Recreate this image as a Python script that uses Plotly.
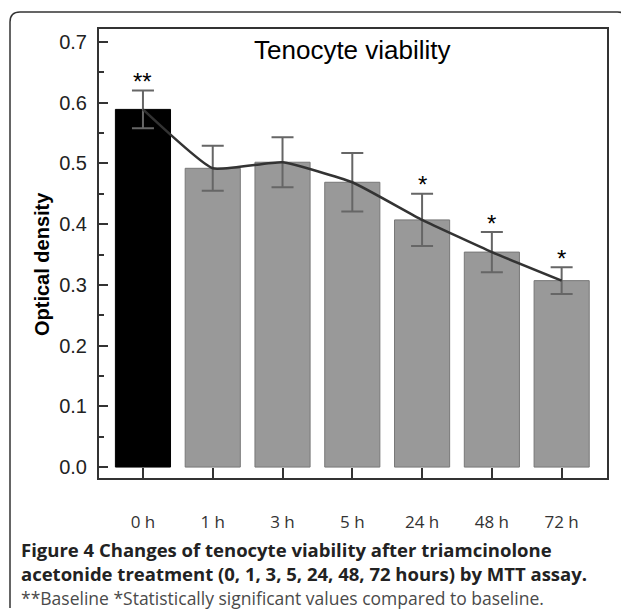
import plotly.graph_objects as go

categories = ["0 h", "1 h", "3 h", "5 h", "24 h", "48 h", "72 h"]
means = [0.589, 0.492, 0.502, 0.469, 0.407, 0.354, 0.307]
errors = [0.031, 0.037, 0.041, 0.048, 0.043, 0.033, 0.022]
stars = ["**", "", "", "", "*", "*", "*"]
bar_colors = ["#000000", "#999999", "#999999", "#999999", "#999999", "#999999", "#999999"]
line_colors = ["#000000", "#777777", "#777777", "#777777", "#777777", "#777777", "#777777"]
y_ticks = [0, 0.1, 0.2, 0.3, 0.4, 0.5, 0.6, 0.7]
y_minor = [0.05, 0.15, 0.25, 0.35, 0.45, 0.55, 0.65]

# page body adds an 8px margin; the figure is sized to fill the rest
OFF = 8
W, H = 629 - OFF, 611 - OFF
L, R, T, B = 91, 22, 21, 133
pw, ph = W - L - R, H - T - B


def px(x):
    """screen x -> paper x"""
    return (x - OFF - L) / pw


def py(y):
    """screen y -> paper y"""
    return (H - B - (y - OFF)) / ph


fig = go.Figure()
fig.add_trace(go.Bar(
    x=categories, y=means, width=0.79,
    marker=dict(color=bar_colors, line=dict(color=line_colors, width=1)),
    error_y=dict(type="data", array=errors, visible=True, color="#666666",
                 thickness=2, width=11),
    showlegend=False, hoverinfo="skip",
))
fig.add_trace(go.Scatter(
    x=categories, y=means, mode="lines",
    line=dict(color="#333333", width=2.5, shape="spline", smoothing=0.4),
    showlegend=False, hoverinfo="skip",
))

for c, m, e, s in zip(categories, means, errors, stars):
    if s:
        fig.add_annotation(x=c, y=m + e, text=s, showarrow=False,
                           xref="x", yref="y", xanchor="center", yanchor="middle",
                           yshift=9,
                           font=dict(family="Liberation Sans", size=24, color="#000"))

fig.add_annotation(x=px(352), y=py(50), xref="paper", yref="paper",
                   xanchor="center", yanchor="middle",
                   text="Tenocyte viability", showarrow=False,
                   font=dict(family="Liberation Sans", size=26, color="#000"))
fig.add_annotation(x=px(42), y=py(264), xref="paper", yref="paper",
                   xanchor="center", yanchor="middle",
                   text="<b>Optical density</b>", showarrow=False, textangle=-90,
                   font=dict(family="Liberation Sans", size=20, color="#000"))

caption = (
    "<b>Figure 4 Changes of tenocyte viability after triamcinolone</b><br>"
    "<b>acetonide treatment (0, 1, 3, 5, 24, 48, 72 hours) by MTT assay.</b><br>"
    "<span style='color:#4a4a4a;font-size:17.5px'>**Baseline *Statistically significant "
    "values compared to baseline.</span>"
)
fig.add_annotation(x=px(19), y=py(573), xref="paper", yref="paper",
                   xanchor="left", yanchor="middle", align="left",
                   text=caption, showarrow=False,
                   font=dict(family="Open Sans", size=18.5, color="#222222"))

# outer rounded frame (open at the bottom)
x0, x1, y0, y1 = px(10), px(627.5), py(12), py(608)
rx, ry = 10 / pw, 10 / ph
path = (f"M {x0},{y1} L {x0},{y0 - ry} Q {x0},{y0} {x0 + rx},{y0} "
        f"L {x1 - rx},{y0} Q {x1},{y0} {x1},{y0 - ry} L {x1},{y1}")
fig.add_shape(type="path", path=path, xref="paper", yref="paper",
              line=dict(color="#333333", width=1.5))

fig.update_layout(
    width=W, height=H, margin=dict(l=L, r=R, t=T, b=B),
    paper_bgcolor="white", plot_bgcolor="white",
)
fig.update_yaxes(
    range=[-0.018, 0.7214], tickvals=y_ticks,
    tickformat=".1f", ticks="inside", ticklen=9, tickwidth=1.5, tickcolor="#333",
    minor=dict(tickvals=y_minor, ticks="inside",
               ticklen=5, tickwidth=1.5, tickcolor="#333"),
    showline=True, linecolor="#333", linewidth=2, mirror=True,
    showgrid=False, zeroline=False, ticklabelstandoff=6,
    tickfont=dict(family="Liberation Sans", size=20, color="#222"),
)
fig.update_xaxes(
    range=[-0.63, 6.65], ticks="inside", ticklen=10, tickwidth=1.5, tickcolor="#333",
    showline=True, linecolor="#333", linewidth=2, mirror=True, showgrid=False,
    ticklabelstandoff=28,
    tickfont=dict(family="Open Sans", size=17, color="#333"),
)

fig.write_html("out.html")
